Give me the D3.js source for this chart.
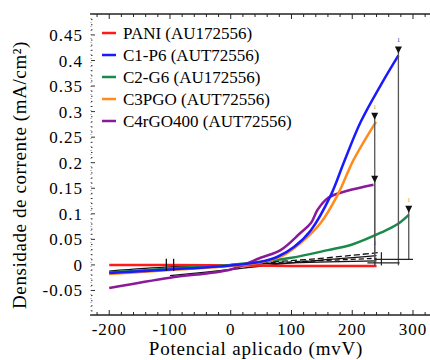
<!DOCTYPE html>
<html>
<head>
<meta charset="utf-8">
<script src="https://cdn.jsdelivr.net/npm/d3@7"></script>
<style>
  body { margin: 0; background: white; }
</style>
</head>
<body>
<script>
    // chart size
    W = 430
    H = 360
    FONT = "Liberation Serif, DejaVu Serif, serif"

    // series (potential in mV, current density in mA/cm2)
    var seriesNames = ["PANI (AU172556)", "C1-P6 (AUT72556)", "C2-G6 (AU172556)", "C3PGO (AUT72556)", "C4rGO400 (AUT72556)"]
    var seriesColors = ["#ff1a1a", "#1a1aff", "#1a8a4a", "#ff8c1a", "#8a1a9a"]

    var paniV = [-200, -100, 0, 100, 200, 240]
    var paniJ = [0.0, 0.0, -0.001, -0.002, -0.002, -0.002]

    var c1p6V = [-200, -100, 0, 49, 77, 104, 132, 165, 186, 214, 247, 276]
    var c1p6J = [-0.016, -0.009, -0.001, 0.006, 0.016, 0.035, 0.068, 0.137, 0.2, 0.28, 0.352, 0.41]

    var c2g6V = [-200, -100, 0, 49, 100, 160, 200, 247, 275, 293]
    var c2g6J = [-0.015, -0.007, 0.0, 0.006, 0.014, 0.029, 0.040, 0.063, 0.080, 0.098]

    var c3pgoV = [-200, -100, 0, 50, 82, 115, 148, 176, 202, 239]
    var c3pgoJ = [-0.018, -0.01, -0.002, 0.005, 0.016, 0.043, 0.082, 0.137, 0.205, 0.28]

    var c4V = [-200, -100, 0, 49, 82, 115, 132, 143, 160, 192, 235]
    var c4J = [-0.045, -0.025, -0.009, 0.014, 0.029, 0.063, 0.082, 0.108, 0.131, 0.145, 0.157]

    // black return sweeps near zero
    var backV = [[-200, -100, 0, 100, 240], [-100, 0, 100, 240], [0, 120, 240], [40, 140, 242]]
    var backJ = [[-0.012, -0.004, 0.0, 0.004, 0.008], [-0.021, -0.009, 0.004, 0.018], [0.001, 0.007, 0.013], [0.004, 0.012, 0.024]]
    var backDash = ["none", "none", "5,3", "6,3"]

    // arrow markers: x, top value, bottom value, label colour
    var arrowV = [276, 237, 237, 293]
    var arrowTop = [0.41, 0.28, 0.157, 0.098]
    var arrowBase = [-0.001, -0.001, -0.001, 0.011]
    var arrowLabelColor = ["#3344aa", "#d09a40", "#b08a60", "#d09a40"]

    var xTicks = [-200, -100, 0, 100, 200, 300]
    var yTicks = [-0.05, 0, 0.05, 0.1, 0.15, 0.2, 0.25, 0.3, 0.35, 0.4, 0.45]

    var svg = d3.select("body").append("svg")
        .attr("width", W)
        .attr("height", H)
        .attr("font-family", FONT)

    var x = d3.scaleLinear().domain([-230, 328]).range([91, 430])
    var y = d3.scaleLinear().domain([-0.098, 0.491]).range([315, 14])

    // axes frame
    svg.append("line").attr("x1", 90).attr("x2", 430).attr("y1", 14).attr("y2", 14)
        .attr("stroke", "#222").attr("stroke-width", 1.5)
    svg.append("line").attr("x1", 90).attr("x2", 430).attr("y1", 315).attr("y2", 315)
        .attr("stroke", "#222").attr("stroke-width", 1.5)
    svg.append("line").attr("x1", 91).attr("x2", 91).attr("y1", 14).attr("y2", 315)
        .attr("stroke", "#888").attr("stroke-width", 1).attr("stroke-dasharray", "1,3")

    // minor/major x ticks (bottom up, top down)
    var xMinor = d3.range(-220, 330, 20)
    xMinor.forEach(function (v) {
        var major = v % 100 == 0
        svg.append("line").attr("x1", x(v)).attr("x2", x(v)).attr("y1", 315).attr("y2", 315 - (major ? 5 : 3))
            .attr("stroke", "#222").attr("stroke-width", 1)
        svg.append("line").attr("x1", x(v)).attr("x2", x(v)).attr("y1", 14).attr("y2", 14 + (major ? 5 : 3))
            .attr("stroke", "#222").attr("stroke-width", 1)
    })
    var yMinor = d3.range(-9, 49).map(function (i) { return i / 100 })
    yMinor.forEach(function (v) {
        var major = Math.abs(Math.round(v * 100) % 5) == 0
        svg.append("line").attr("x1", 91).attr("x2", 91 + (major ? 4 : 1.5)).attr("y1", y(v)).attr("y2", y(v))
            .attr("stroke", "#333").attr("stroke-width", 1)
    })

    // tick labels
    svg.selectAll(".xt").data(xTicks).enter().append("text")
        .attr("x", function (d) { return x(d) }).attr("y", 335)
        .attr("text-anchor", "middle").attr("font-size", "17px").attr("letter-spacing", "1px")
        .text(function (d) { return d < 0 ? "-" + Math.abs(d) : d })
    svg.selectAll(".yt").data(yTicks).enter().append("text")
        .attr("x", 83).attr("y", function (d) { return y(d) + 6 })
        .attr("text-anchor", "end").attr("font-size", "17px").attr("letter-spacing", "1px")
        .text(function (d) { return d < 0 ? "-" + Math.abs(d) : d })

    // axis titles
    svg.append("text").attr("x", 256).attr("y", 355).attr("text-anchor", "middle")
        .attr("font-size", "19px").attr("letter-spacing", "0.8px").text("Potencial aplicado (mvV)")
    svg.append("text").attr("transform", "translate(26,175) rotate(-90)").attr("text-anchor", "middle")
        .attr("font-size", "19px").attr("letter-spacing", "0.6px").text("Densidade de corrente (mA/cm²)")

    var line = d3.line()
        .x(function (d) { return x(d[0]) })
        .y(function (d) { return y(d[1]) })
        .curve(d3.curveCatmullRom.alpha(0.5))

    // black return sweeps
    backV.forEach(function (vs, i) {
        svg.append("path").datum(d3.zip(vs, backJ[i]))
            .attr("d", line).attr("fill", "none").attr("stroke", "#111")
            .attr("stroke-width", 1.3).attr("stroke-dasharray", backDash[i])
    })

    var allV = [paniV, c1p6V, c2g6V, c3pgoV, c4V]
    var allJ = [paniJ, c1p6J, c2g6J, c3pgoJ, c4J]
    var order = [0, 2, 4, 3, 1]
    order.forEach(function (i) {
        svg.append("path").datum(d3.zip(allV[i], allJ[i]))
            .attr("d", line).attr("fill", "none").attr("stroke", seriesColors[i])
            .attr("stroke-width", 2.5)
    })

    // small markers near -100
    svg.selectAll(".mk").data([-106, -94]).enter().append("line")
        .attr("x1", function (d) { return x(d) }).attr("x2", function (d) { return x(d) })
        .attr("y1", y(0.012)).attr("y2", y(-0.012))
        .attr("stroke", "#111").attr("stroke-width", 1.3)

    // vertical arrows
    arrowV.forEach(function (v, i) {
        var ax = x(v)
        svg.append("line").attr("x1", ax).attr("x2", ax).attr("y1", y(arrowTop[i]) - 4).attr("y2", y(arrowBase[i]))
            .attr("stroke", "#555").attr("stroke-width", 1.3)
        svg.append("path")
            .attr("d", "M" + (ax - 3.5) + "," + (y(arrowTop[i]) - 9) + "L" + (ax + 3.5) + "," + (y(arrowTop[i]) - 9) + "L" + ax + "," + (y(arrowTop[i]) - 2) + "Z")
            .attr("fill", "#111")
        svg.append("text").attr("x", ax).attr("y", y(arrowTop[i]) - 13).attr("text-anchor", "middle")
            .attr("font-size", "7px").attr("fill", arrowLabelColor[i]).text("1")
    })
    // baseline brackets at the right
    svg.append("line").attr("x1", x(237)).attr("x2", x(300)).attr("y1", y(0.011)).attr("y2", y(0.011))
        .attr("stroke", "#222").attr("stroke-width", 1.2)
    svg.append("line").attr("x1", x(225)).attr("x2", x(278)).attr("y1", y(0.004)).attr("y2", y(0.004))
        .attr("stroke", "#222").attr("stroke-width", 1.2)
    svg.append("line").attr("x1", x(248)).attr("x2", x(248)).attr("y1", y(0.025)).attr("y2", y(-0.001))
        .attr("stroke", "#222").attr("stroke-width", 1.2)
    svg.append("text").attr("x", x(237)).attr("y", y(0.038)).attr("text-anchor", "middle")
        .attr("font-size", "7px").attr("fill", "#3344aa").text("1")

    // legend
    var legend = svg.selectAll(".leg").data(seriesNames).enter().append("g")
        .attr("transform", function (d, i) { return "translate(100," + (33 + i * 22) + ")" })
    legend.append("line").attr("x1", 2).attr("x2", 16).attr("y1", 0).attr("y2", 0)
        .attr("stroke", function (d, i) { return seriesColors[i] }).attr("stroke-width", 2.5)
    legend.append("text").attr("x", 23).attr("y", 5.5).attr("font-size", "17px")
        .text(function (d) { return d })
</script>
</body>
</html>
